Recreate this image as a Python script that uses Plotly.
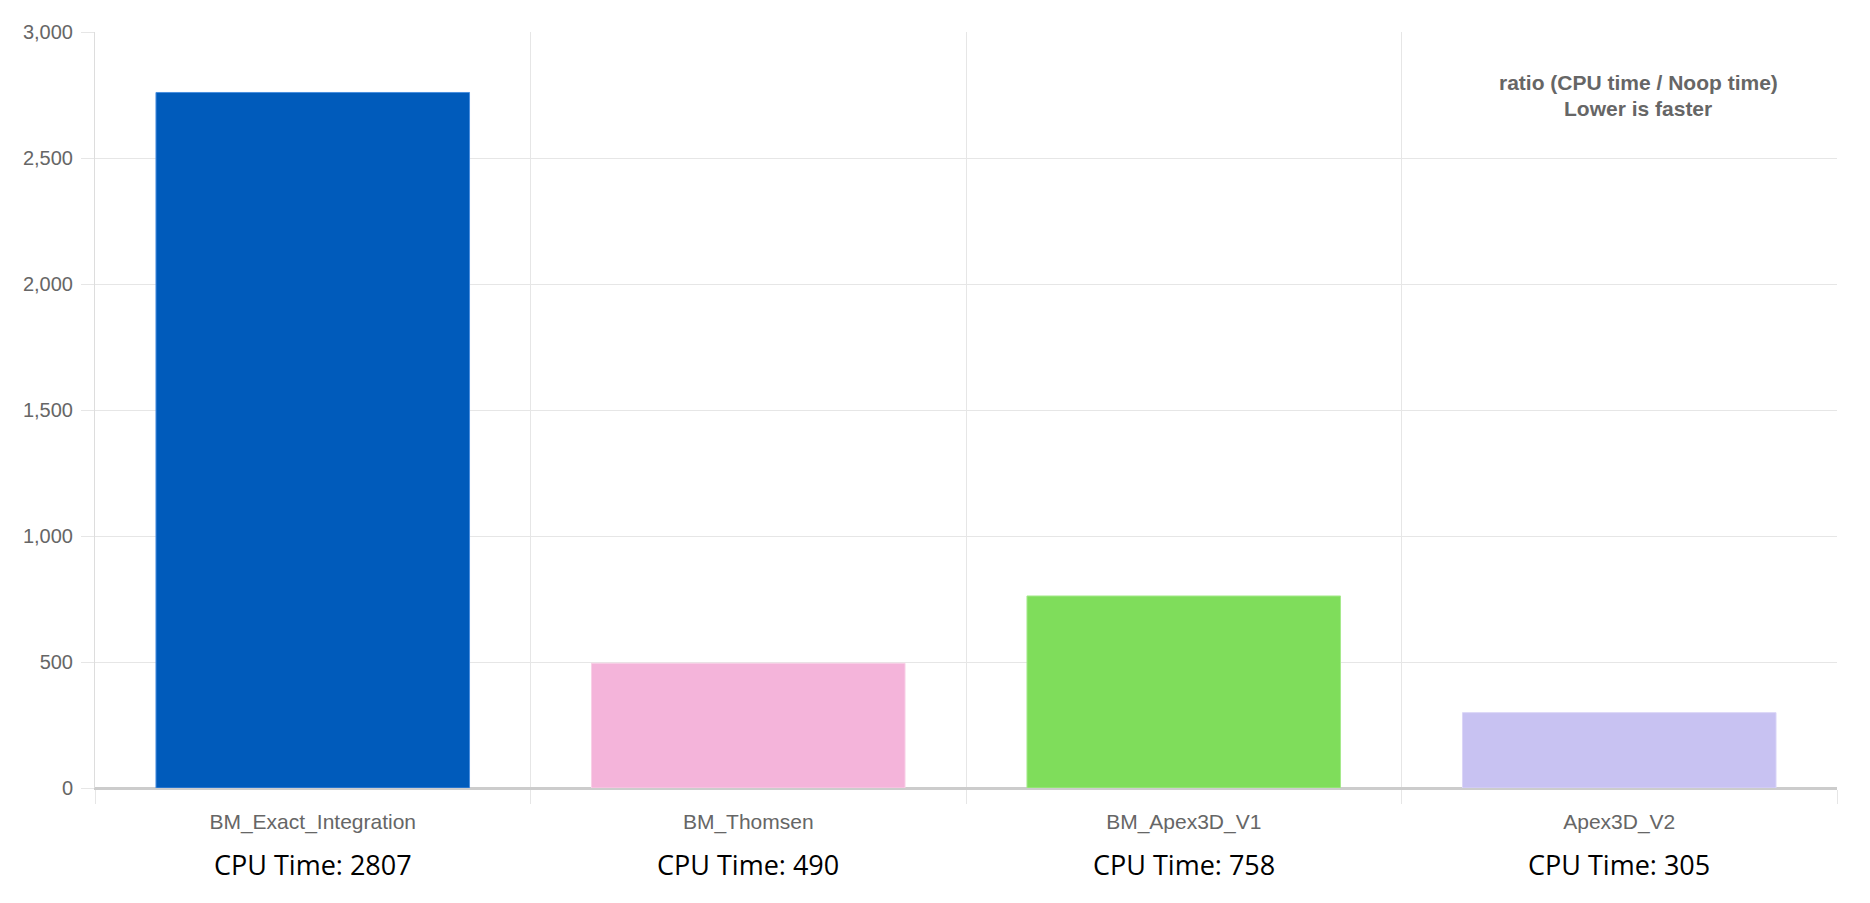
import plotly.graph_objects as go

categories = ["BM_Exact_Integration", "BM_Thomsen", "BM_Apex3D_V1", "Apex3D_V2"]
ratio_values = [2760, 495, 762, 299]
cpu_times = [2807, 490, 758, 305]
bar_colors = ["#005BBB", "#F4B4DA", "#7FDD5B", "#C8C2F2"]
border_colors = ["#4A8FE0", "#F8D0E6", "#A6EA8C", "#DAD5F7"]
y_ticks = [0, 500, 1000, 1500, 2000, 2500, 3000]
note_lines = ["ratio (CPU time / Noop time)", "Lower is faster"]

fig = go.Figure()
fig.add_trace(go.Bar(
    x=categories,
    y=ratio_values,
    marker=dict(color=bar_colors, line=dict(color=border_colors, width=1)),
    width=0.72,
    showlegend=False,
    hoverinfo="x+y",
))

annotations = []
for cat, t in zip(categories, cpu_times):
    annotations.append(dict(
        x=cat, xref="x", y=-0.1014, yref="paper",
        text=f"CPU Time: {t}", showarrow=False,
        xanchor="center", yanchor="middle",
        font=dict(family="Open Sans, Noto Sans, sans-serif", size=27, color="#000000"),
    ))
for i, line in enumerate(note_lines):
    annotations.append(dict(
        x=0.886, xref="paper", y=0.933 - i * 0.0344, yref="paper",
        text=f"<b>{line}</b>", showarrow=False,
        xanchor="center", yanchor="middle",
        font=dict(family="Liberation Sans, Arial, sans-serif", size=21, color="#666666"),
    ))

fig.update_layout(
    width=1870, height=903,
    margin=dict(l=87, r=41, t=24, b=123, autoexpand=False),
    paper_bgcolor="white", plot_bgcolor="white",
    font=dict(family="Liberation Sans, Arial, sans-serif", size=20, color="#666666"),
    annotations=annotations,
    bargap=0.28,
)
fig.update_xaxes(
    type="category",
    tickson="boundaries",
    ticks="outside", ticklen=14, tickcolor="#e6e6e6", tickwidth=1,
    showgrid=True, gridcolor="#e6e6e6", gridwidth=1,
    showline=True, linecolor="#cccccc", linewidth=2,
    tickfont=dict(size=21, color="#666666"),
    ticklabelstandoff=14,
    range=[-0.5, 3.5],
)
fig.update_yaxes(
    range=[0, 3000],
    tickvals=y_ticks,
    tickformat=",",
    ticks="outside", ticklen=13, tickcolor="#e6e6e6",
    showgrid=True, gridcolor="#e6e6e6", gridwidth=1,
    zeroline=True, zerolinecolor="#cccccc", zerolinewidth=2,
    showline=True, linecolor="#dddddd", linewidth=1,
    tickfont=dict(size=20, color="#666666"),
    ticklabelstandoff=4,
)

fig.write_html("out.html")
